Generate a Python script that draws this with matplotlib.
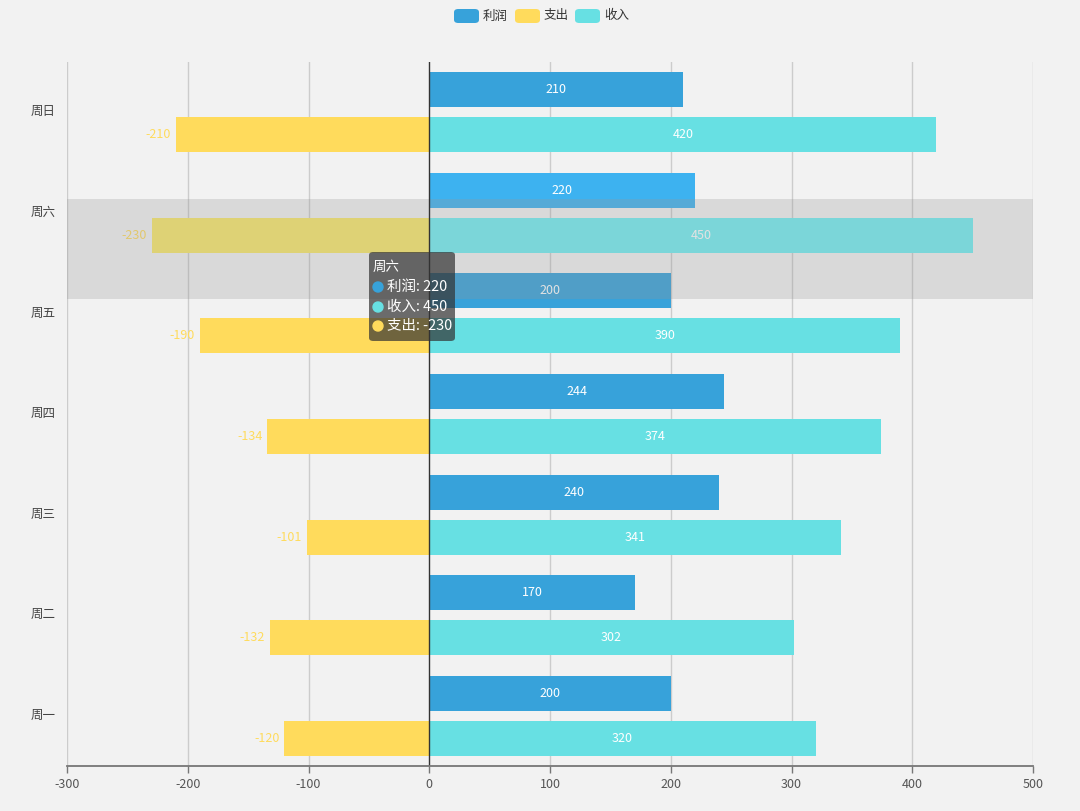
import matplotlib
matplotlib.use("Agg")
import matplotlib.pyplot as plt
from matplotlib.patches import FancyBboxPatch, Ellipse
import numpy as np

plt.rcParams['font.family'] = ['Noto Sans CJK SC', 'DejaVu Sans']

categories = ['周一', '周二', '周三', '周四', '周五', '周六', '周日']
profit = [200, 170, 240, 244, 200, 220, 210]
income = [320, 302, 341, 374, 390, 450, 420]
expense = [-120, -132, -101, -134, -190, -230, -210]
x_ticks = [-300, -200, -100, 0, 100, 200, 300, 400, 500]
series_names = ['利润', '支出', '收入']

C_PROFIT = '#37a2da'
C_EXPENSE = '#ffdb5c'
C_INCOME = '#67e0e3'
BG = '#f2f2f2'
hover_idx = 5

W, H = 1080, 811
fig = plt.figure(figsize=(W / 100, H / 100), dpi=100, facecolor=BG)
L, R, T, B = 67, 1033, 62, 766
ax = fig.add_axes([L / W, 1 - B / H, (R - L) / W, (B - T) / H])
ax.set_facecolor(BG)

def fx(px):
    return px / W

def fy(py):
    return 1 - py / H

fs = 12.5 * 0.72  # ~12px in points
y = np.arange(len(categories))
off = 0.224
h = 0.348

p_colors = [C_PROFIT] * len(y)
i_colors = [C_INCOME] * len(y)
e_colors = [C_EXPENSE] * len(y)
p_colors[hover_idx] = '#3db2f0'
i_colors[hover_idx] = '#72eff3'
e_colors[hover_idx] = '#f9e96a'

ax.barh(y + off, profit, height=h, color=p_colors, zorder=2)
ax.barh(y - off, income, height=h, color=i_colors, zorder=2)
ax.barh(y - off, expense, height=h, color=e_colors, zorder=2)

for i in range(len(y)):
    ax.text(profit[i] / 2, y[i] + off, str(profit[i]), color='white', fontsize=fs,
            ha='center', va='center', zorder=2.5, fontweight='medium')
    ax.text(income[i] / 2, y[i] - off, str(income[i]), color='white', fontsize=fs,
            ha='center', va='center', zorder=2.5, fontweight='medium')
    ax.annotate(str(expense[i]), xy=(expense[i], y[i] - off), xytext=(-5, 0),
                textcoords='offset pixels', color=C_EXPENSE, fontsize=fs,
                ha='right', va='center', zorder=2.5)

# hover shadow (ECharts axisPointer)
ax.axhspan(hover_idx - 0.86, hover_idx + 0.14, color=(150 / 255, 150 / 255, 150 / 255),
           alpha=0.27, lw=0, zorder=3)

ax.set_xlim(-300, 500)
ax.set_ylim(-0.5, len(categories) - 0.5)
ax.set_xticks(x_ticks)
ax.set_xticklabels([str(v) for v in x_ticks])
for xv in x_ticks:
    if xv != 0:
        ax.axvline(xv, color='#cccccc', lw=1, zorder=0)
ax.axvline(0, color='#333333', lw=1, zorder=4)

ax.set_yticks(y + 0.02)
ax.set_yticklabels(categories)
ax.tick_params(axis='y', length=0, pad=8, labelsize=fs, labelcolor='#444444')
ax.tick_params(axis='x', length=5, width=1, color='#777777', pad=4, labelsize=fs,
               labelcolor='#555555', direction='out')
for s in ['left', 'right', 'top']:
    ax.spines[s].set_visible(False)
ax.spines['bottom'].set_color('#777777')
ax.spines['bottom'].set_linewidth(1.3)
ax.spines['bottom'].set_zorder(5)

# legend
leg_items = [(454, series_names[0], C_PROFIT), (515, series_names[1], C_EXPENSE),
             (575, series_names[2], C_INCOME)]
for x0, name, col in leg_items:
    fig.add_artist(FancyBboxPatch((fx(x0), fy(23)), 25 / W, 14 / H,
                                  boxstyle='round,pad=0,rounding_size=0.004',
                                  transform=fig.transFigure, color=col, lw=0))
    fig.text(fx(x0 + 29), fy(16), name, fontsize=fs, color='#333333',
             ha='left', va='center')

# tooltip
fig.add_artist(FancyBboxPatch((fx(369), fy(341)), 86 / W, 89 / H,
                              boxstyle='round,pad=0,rounding_size=0.004',
                              transform=fig.transFigure,
                              facecolor=(50 / 255, 50 / 255, 50 / 255, 0.7), lw=0,
                              zorder=10))
fig.text(fx(373), fy(267), categories[hover_idx], fontsize=13.5 * 0.72, color='white',
         ha='left', va='center', zorder=11)
tip_rows = [(287, series_names[0], profit[hover_idx], C_PROFIT),
            (307, series_names[2], income[hover_idx], C_INCOME),
            (326, series_names[1], expense[hover_idx], C_EXPENSE)]
for py, name, val, col in tip_rows:
    fig.add_artist(Ellipse((fx(378), fy(py)), 10 / W, 10 / H, transform=fig.transFigure,
                           color=col, zorder=11))
    fig.text(fx(387), fy(py), f'{name}: {val}', fontsize=14.5 * 0.72, color='white',
             ha='left', va='center', zorder=11)

fig.savefig('out.png', dpi=100, facecolor=BG)
